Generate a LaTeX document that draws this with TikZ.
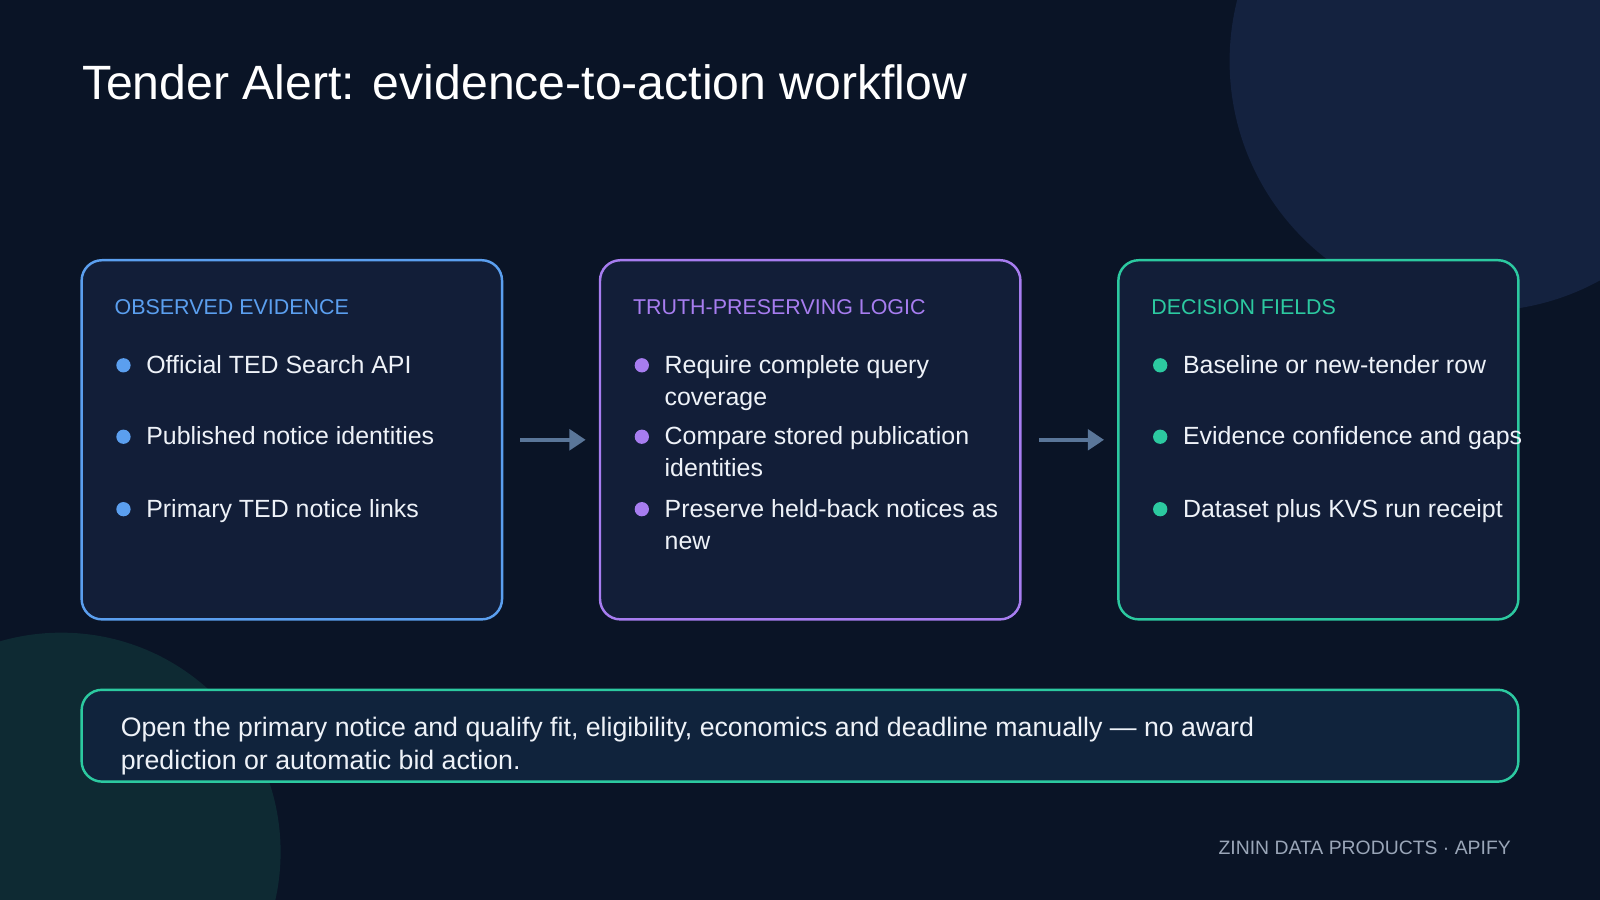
\documentclass[tikz,border=0pt]{standalone}
\usepackage{fontspec}
\setmainfont{Liberation Sans}
\usetikzlibrary{arrows.meta}
\definecolor{bg}{HTML}{0A1426}
\definecolor{boxfill}{HTML}{121E38}
\definecolor{notefill}{HTML}{10233C}
\definecolor{cblue}{HTML}{5B9FEF}
\definecolor{cpurple}{HTML}{A77DF0}
\definecolor{cteal}{HTML}{2CC9A0}
\definecolor{arrowc}{HTML}{5A7699}
\definecolor{txt}{HTML}{EEF2F8}
\definecolor{foot}{HTML}{9AA6B8}
\definecolor{circ1}{HTML}{14223F}
\definecolor{circ2}{HTML}{0E2A33}
\begin{document}
\begin{tikzpicture}[x=0.5pt,y=-0.5pt,
  card/.style={draw=#1,line width=1.2pt,fill=boxfill,rounded corners=10pt},
  hdr/.style={anchor=base west,text=#1,font=\fontsize{10.5}{12}\selectfont},
  item/.style={anchor=base west,text=txt,align=left,font=\fontsize{12.2}{15.5}\selectfont,inner sep=0},
  item2/.style={anchor=north west,text=txt,align=left,font=\fontsize{12.2}{15.5}\selectfont,inner sep=0},
  dot/.style={circle,fill=#1,inner sep=0,minimum size=7pt},
  arr/.style={draw=arrowc,line width=2pt,-{Triangle[length=8pt,width=10pt]}}]
\useasboundingbox (0,0) rectangle (1568,882);
\fill[bg] (0,0) rectangle (1568,882);
\begin{scope}
\clip (0,0) rectangle (1568,882);
\fill[circ1] (1450,60) circle (245);
\fill[circ2] (60,835) circle (215);
\end{scope}
\node[anchor=base west,text=white,font=\fontsize{23.6}{28}\selectfont,inner sep=0] (title) at (80,98) {Tender Alert: evidence-to-action workflow};
% cards
\draw[card=cblue] (80,255) rectangle (492,607);
\draw[card=cpurple] (588,255) rectangle (1000,607);
\draw[card=cteal] (1096,255) rectangle (1488,607);
\node[hdr=cblue,inner sep=0] (h1) at (112,308) {OBSERVED EVIDENCE};
\node[hdr=cpurple,inner sep=0] (h2) at (620,308) {TRUTH-PRESERVING LOGIC};
\node[hdr=cteal,inner sep=0] (h3) at (1128,308) {DECISION FIELDS};
% column 1
\node[dot=cblue] (d11) at (121,358) {};
\node[item] (i11) at (143,366) {Official TED Search API};
\node[dot=cblue] (d12) at (121,428) {};
\node[item] (i12) at (143,436) {Published notice identities};
\node[dot=cblue] (d13) at (121,499) {};
\node[item] (i13) at (143,507) {Primary TED notice links};
% column 2
\node[dot=cpurple] (d21) at (629,358) {};
\node[item2] (i21) at (651,348) {Require complete query\\coverage};
\node[dot=cpurple] (d22) at (629,428) {};
\node[item2] (i22) at (651,418) {Compare stored publication\\identities};
\node[dot=cpurple] (d23) at (629,499) {};
\node[item2] (i23) at (651,489) {Preserve held-back notices as\\new};
% column 3
\node[dot=cteal] (d31) at (1137,358) {};
\node[item] (i31) at (1159,366) {Baseline or new-tender row};
\node[dot=cteal] (d32) at (1137,428) {};
\node[item] (i32) at (1159,436) {Evidence confidence and gaps};
\node[dot=cteal] (d33) at (1137,499) {};
\node[item] (i33) at (1159,507) {Dataset plus KVS run receipt};
% arrows
\coordinate (a1s) at (510,431); \coordinate (a1e) at (574,431);
\coordinate (a2s) at (1018,431); \coordinate (a2e) at (1082,431);
\draw[arr] (a1s) -- (a1e);
\draw[arr] (a2s) -- (a2e);
% bottom
\draw[card=cteal,fill=notefill] (80,676) rectangle (1488,766);
\node[item2,font=\fontsize{13.1}{16.5}\selectfont] (note) at (118,702) {Open the primary notice and qualify fit, eligibility, economics and deadline manually — no award\\prediction or automatic bid action.};
\node[anchor=base east,text=foot,font=\fontsize{9.5}{11}\selectfont,inner sep=0] (footer) at (1481,837) {ZININ DATA PRODUCTS · APIFY};
\end{tikzpicture}
\end{document}
